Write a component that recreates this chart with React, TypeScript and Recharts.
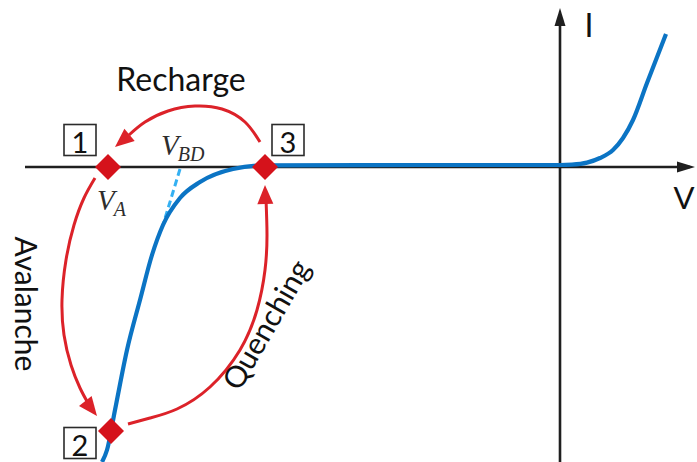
import React from "react";
import { ComposedChart, XAxis, YAxis, Line, Scatter } from "recharts";

// Coordinates: V (horizontal) and I (vertical) in arbitrary units.
const vDomain: [number, number] = [-28, 6.85];
const iDomain: [number, number] = [-14.75, 8.35];

// Coordinate axes
const vAxisLine = [
  { v: -26.75, i: 0 },
  { v: 6.5, i: 0 },
];
const iAxisLine = [
  { v: 0, i: -14.75 },
  { v: 0, i: 7.6 },
];

// Diode I-V characteristic (reverse breakdown on the left, forward conduction on the right)
const ivCurve = [
  { v: -22.9, i: -14.75 },
  { v: -22.65, i: -14.15 },
  { v: -22.25, i: -12.15 },
  { v: -21.65, i: -9.15 },
  { v: -21.0, i: -6.65 },
  { v: -20.4, i: -4.4 },
  { v: -19.85, i: -2.9 },
  { v: -19.0, i: -1.55 },
  { v: -18.0, i: -0.75 },
  { v: -16.35, i: -0.1 },
  { v: -14.75, i: 0.08 },
  { v: -7.0, i: 0.1 },
  { v: 0, i: 0.1 },
  { v: 0.6, i: 0.12 },
  { v: 1.35, i: 0.22 },
  { v: 2.0, i: 0.45 },
  { v: 2.65, i: 0.85 },
  { v: 3.15, i: 1.45 },
  { v: 3.65, i: 2.35 },
  { v: 4.35, i: 4.2 },
  { v: 5.3, i: 6.65 },
];

// Extrapolated linear part down to the breakdown voltage
const breakdownExtrap = [
  { v: -19.0, i: -0.1 },
  { v: -19.85, i: -2.9 },
];

// Operating-cycle arcs
const rechargeArc = [
  { v: -15.0, i: 1.25 },
  { v: -15.75, i: 2.25 },
  { v: -16.9, i: 2.9 },
  { v: -18.25, i: 3.05 },
  { v: -19.6, i: 2.8 },
  { v: -20.75, i: 2.25 },
  { v: -21.55, i: 1.6 },
];
const avalancheArc = [
  { v: -23.25, i: -0.55 },
  { v: -23.8, i: -1.55 },
  { v: -24.3, i: -2.9 },
  { v: -24.7, i: -4.65 },
  { v: -24.9, i: -6.65 },
  { v: -24.8, i: -8.4 },
  { v: -24.45, i: -9.9 },
  { v: -24.0, i: -11.05 },
  { v: -23.6, i: -11.8 },
];
const quenchingArc = [
  { v: -21.6, i: -12.85 },
  { v: -20.5, i: -12.55 },
  { v: -19.15, i: -12.1 },
  { v: -17.5, i: -11.0 },
  { v: -16.0, i: -9.15 },
  { v: -15.15, i: -7.15 },
  { v: -14.75, i: -5.15 },
  { v: -14.65, i: -3.4 },
  { v: -14.7, i: -1.6 },
];

// Arrow tips: angle in screen degrees (0 = right, 90 = down)
const arcArrows = [
  { v: -22.25, i: 1.0, angle: 140 },
  { v: -23.15, i: -12.45, angle: 52 },
  { v: -14.75, i: -0.9, angle: -91 },
];
const axisArrows = [
  { v: 6.75, i: 0, angle: 0 },
  { v: 0, i: 7.95, angle: -90 },
];

// Operating points 1 (V_A), 3 (V_BD region) and 2 (avalanche)
const operatingPoints = [
  { v: -22.6, i: 0 },
  { v: -14.75, i: 0 },
  { v: -22.45, i: -13.2 },
];

const stepBoxes = [
  { v: -24.0, i: 1.35, label: "1" },
  { v: -13.6, i: 1.35, label: "3" },
  { v: -24.0, i: -13.8, label: "2" },
];

const textLabels = [
  { v: -18.95, i: 4.45, text: "Recharge", rot: 0, size: 32 },
  { v: -26.65, i: -6.85, text: "Avalanche", rot: 90, size: 30 },
  { v: -14.75, i: -7.85, text: "Quenching", rot: -60, size: 30 },
  { v: 1.45, i: 7.15, text: "I", rot: 0, size: 32 },
  { v: 6.2, i: -1.5, text: "V", rot: 0, size: 31 },
];

const mathLabels = [
  { v: -23.15, i: -2.15, main: "V", sub: "A" },
  { v: -19.95, i: 0.6, main: "V", sub: "BD" },
];

const BLUE = "#0b74c4";
const RED = "#dc2229";
const DIAMOND = "#d5121b";
const AXIS = "#1f1f1f";
const SANS = "Lato, 'Open Sans', sans-serif";
const SERIF = "'Liberation Serif', 'DejaVu Serif', serif";

const pick = (p: any) => p.payload ?? p;

const Arrowhead = (color: string, len: number, half: number) => (p: any) => {
  const d = pick(p);
  return (
    <polygon
      points={`0,0 ${-len},${-half} ${-len},${half}`}
      fill={color}
      transform={`translate(${p.cx},${p.cy}) rotate(${d.angle})`}
    />
  );
};

const DiamondShape = (p: any) => {
  const r = 13;
  return (
    <polygon
      points={`${p.cx},${p.cy - r} ${p.cx + r},${p.cy} ${p.cx},${p.cy + r} ${p.cx - r},${p.cy}`}
      fill={DIAMOND}
    />
  );
};

const BoxShape = (p: any) => {
  const d = pick(p);
  return (
    <g>
      <rect x={p.cx - 16} y={p.cy - 15.5} width={32} height={31} fill="#fff" stroke="#2b2b2b" strokeWidth={1.6} />
      <text x={p.cx} y={p.cy + 1} textAnchor="middle" dominantBaseline="central" fontFamily={SANS} fontSize={29} fill="#111">
        {d.label}
      </text>
    </g>
  );
};

const LabelShape = (p: any) => {
  const d = pick(p);
  return (
    <text
      x={p.cx}
      y={p.cy}
      textAnchor="middle"
      dominantBaseline="central"
      fontFamily={SANS}
      fontSize={d.size}
      fill="#111"
      transform={d.rot ? `rotate(${d.rot} ${p.cx} ${p.cy})` : undefined}
    >
      {d.text}
    </text>
  );
};

const MathShape = (p: any) => {
  const d = pick(p);
  return (
    <text x={p.cx} y={p.cy} fontFamily={SERIF} fontStyle="italic" fill="#2d2d2d">
      <tspan fontSize={29}>{d.main}</tspan>
      <tspan fontSize={20} dy={6} dx={-1}>
        {d.sub}
      </tspan>
    </text>
  );
};

export default function App() {
  const lineProps = {
    dataKey: "i",
    dot: false,
    activeDot: false,
    isAnimationActive: false,
    legendType: "none" as const,
  };
  return (
    <div style={{ position: "absolute", left: 0, top: 0, width: 697, height: 462, background: "#fff" }}>
      <ComposedChart width={697} height={462} margin={{ top: 0, right: 0, bottom: 0, left: 0 }}>
        <XAxis type="number" dataKey="v" domain={vDomain} allowDataOverflow hide />
        <YAxis type="number" dataKey="i" domain={iDomain} allowDataOverflow hide />

        <Line {...lineProps} data={vAxisLine} type="linear" stroke={AXIS} strokeWidth={2.6} />
        <Line {...lineProps} data={iAxisLine} type="linear" stroke={AXIS} strokeWidth={2.6} />
        <Scatter data={axisArrows} shape={Arrowhead(AXIS, 18, 5.5)} isAnimationActive={false} legendType="none" />

        <Line {...lineProps} data={breakdownExtrap} type="linear" stroke="#34b0f2" strokeWidth={3} strokeDasharray="7 4" />
        <Line {...lineProps} data={ivCurve} type="monotone" stroke={BLUE} strokeWidth={4.2} />

        <Line {...lineProps} data={rechargeArc} type="natural" stroke={RED} strokeWidth={3} />
        <Line {...lineProps} data={avalancheArc} type="natural" stroke={RED} strokeWidth={3} />
        <Line {...lineProps} data={quenchingArc} type="natural" stroke={RED} strokeWidth={3} />
        <Scatter data={arcArrows} shape={Arrowhead(RED, 19, 8)} isAnimationActive={false} legendType="none" />

        <Scatter data={operatingPoints} shape={DiamondShape} isAnimationActive={false} legendType="none" />
        <Scatter data={stepBoxes} shape={BoxShape} isAnimationActive={false} legendType="none" />
        <Scatter data={textLabels} shape={LabelShape} isAnimationActive={false} legendType="none" />
        <Scatter data={mathLabels} shape={MathShape} isAnimationActive={false} legendType="none" />
      </ComposedChart>
    </div>
  );
}
